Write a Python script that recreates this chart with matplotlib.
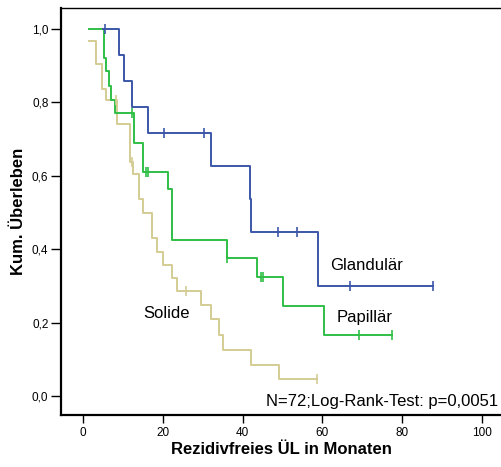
import matplotlib
matplotlib.use("Agg")
import matplotlib.pyplot as plt
import numpy as np

plt.rcParams['font.family'] = ['Liberation Sans', 'DejaVu Sans']

# Glandulär (blue)
gland_t = [5.1, 9.1, 10.3, 12.4, 16.2, 32.2, 41.8, 42.2, 59.0, 87.8]
gland_s = [1.0, 0.928, 0.857, 0.787, 0.717, 0.627, 0.537, 0.447, 0.299, 0.299]
gland_c = [5.5, 20.3, 30.3, 48.8, 53.6, 66.9, 87.8]

# Papillär (green)
pap_t = [1.6, 5.3, 5.8, 6.6, 7.0, 8.0, 12.8, 15.0, 21.4, 22.2, 36.0, 43.5, 50.2, 60.5, 77.4]
pap_s = [1.0, 0.922, 0.886, 0.845, 0.807, 0.770, 0.689, 0.609, 0.563, 0.425, 0.377,
         0.324, 0.245, 0.165, 0.165]
pap_c = [12.4, 15.8, 16.4, 36.2, 44.6, 45.2, 69.2, 77.4]

# Solide (tan)
sol_t = [1.6, 3.3, 4.8, 5.8, 8.6, 11.8, 12.6, 14.1, 15.0, 17.2, 18.6, 20.0, 22.2, 23.6,
         29.6, 32.0, 34.2, 35.0, 42.0, 49.1, 58.6]
sol_s = [0.967, 0.904, 0.837, 0.807, 0.740, 0.638, 0.606, 0.536, 0.499, 0.429, 0.392,
         0.358, 0.322, 0.287, 0.247, 0.209, 0.165, 0.125, 0.085, 0.046, 0.046]
sol_c = [8.3, 12.2, 25.8, 58.6]

groups = [
    ("Glandulär", gland_t, gland_s, gland_c, '#3c57a9'),
    ("Papillär", pap_t, pap_s, pap_c, '#2fbf45'),
    ("Solide", sol_t, sol_s, sol_c, '#d4cc94'),
]

fig = plt.figure(figsize=(5.02, 4.67), dpi=100)
ax = fig.add_axes([61/502, 1-415/467, 1-61/502, (415-8)/467])

for name, t, s, c, col in reversed(groups):
    ax.step(t, s, where='post', color=col, lw=1.4, zorder=3)
    t_arr = np.array(t)
    s_arr = np.array(s)
    cy = [s_arr[np.searchsorted(t_arr, ci, side='right') - 1] for ci in c]
    ax.plot(c, cy, ls='none', marker='|', ms=7, mew=1.2, color=col, zorder=4)

ax.set_xlim(-5.5, 105.0)
ax.set_ylim(-0.052, 1.057)
ax.set_xticks([0, 20, 40, 60, 80, 100])
ax.set_yticks([0.0, 0.2, 0.4, 0.6, 0.8, 1.0])
ax.set_yticklabels(['0,0', '0,2', '0,4', '0,6', '0,8', '1,0'])
ax.tick_params(axis='x', direction='out', length=5.5, width=1.0, labelsize=8.5, pad=3)
ax.tick_params(axis='y', direction='out', length=7, width=1.0, labelsize=8.5, pad=2)

for sp in ['left', 'bottom']:
    ax.spines[sp].set_linewidth(1.6)
ax.spines['top'].set_linewidth(1.0)
ax.spines['right'].set_visible(False)

ax.set_xlabel('Rezidivfreies ÜL in Monaten', fontsize=12, fontweight='bold', labelpad=2)
ax.set_ylabel('Kum. Überleben', fontsize=12, fontweight='bold', labelpad=4)

ax.text(62.0, 0.355, 'Glandulär', fontsize=12, va='center', ha='left')
ax.text(63.5, 0.215, 'Papillär', fontsize=12, va='center', ha='left')
ax.text(15.0, 0.225, 'Solide', fontsize=12, va='center', ha='left')
ax.text(104.0, -0.015, 'N=72;Log-Rank-Test: p=0,0051', fontsize=12, va='center', ha='right')

fig.savefig('out.png', dpi=100)
